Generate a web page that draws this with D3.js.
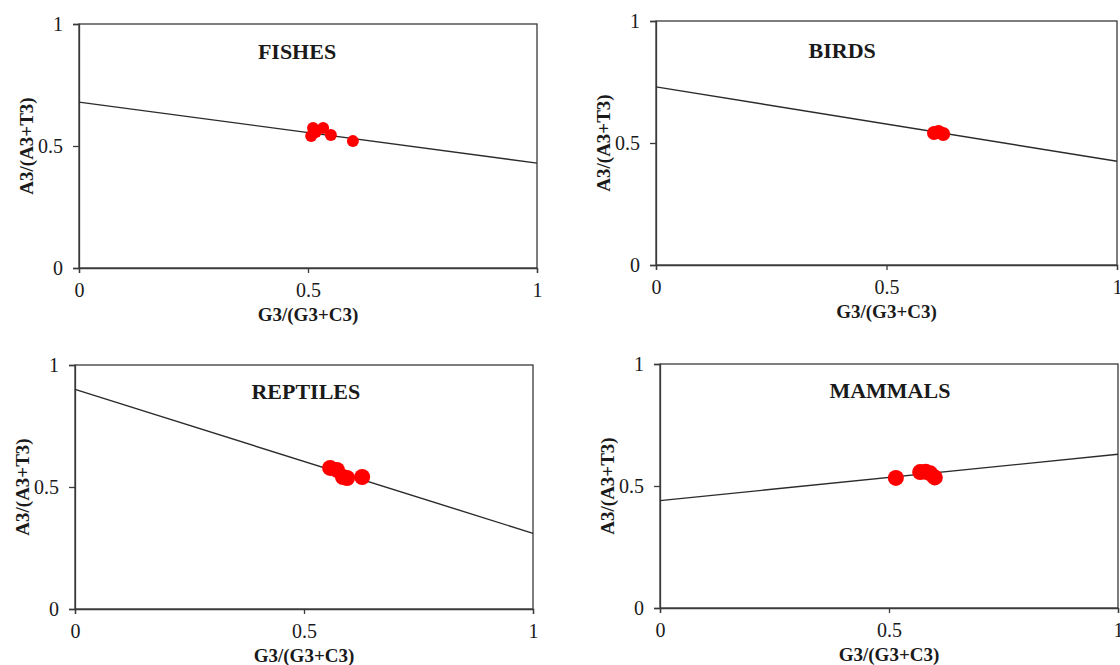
<!DOCTYPE html>
<html>
<head>
<meta charset="utf-8">
<script src="https://cdn.jsdelivr.net/npm/d3@7"></script>
<style>
  body { margin: 0; background: #fff; }
  text { font-family: "Liberation Serif", "Times New Roman", serif; fill: #1a1a1a; }
  .tick text { font-size: 20px; }
  .title { font-size: 22px; font-weight: bold; }
  .axis-title { font-size: 19px; font-weight: bold; }
</style>
</head>
<body>
<svg width="1120" height="665"></svg>
<script>
// chart values
var panelNames = ["FISHES", "BIRDS", "REPTILES", "MAMMALS"];

var fishesX = [0.511, 0.507, 0.517, 0.533, 0.550, 0.598];
var fishesY = [0.574, 0.541, 0.557, 0.574, 0.545, 0.520];

var birdsX = [0.603, 0.613, 0.623];
var birdsY = [0.541, 0.545, 0.537];

var reptilesX = [0.557, 0.572, 0.585, 0.594, 0.627];
var reptilesY = [0.578, 0.570, 0.541, 0.537, 0.541];

var mammalsX = [0.515, 0.568, 0.580, 0.590, 0.600];
var mammalsY = [0.533, 0.557, 0.558, 0.552, 0.535];

var fitIntercepts = [0.68, 0.73, 0.90, 0.44];
var fitSlopes = [-0.25, -0.305, -0.59, 0.19];

var tickValues = [0, 0.5, 1];
var tickLabels = ["0", "0.5", "1"];

var xTitle = "G3/(G3+C3)",
    yTitle = "A3/(A3+T3)";

// layout
var boxes = [
  { left: 79, top: 24, width: 458, height: 244, r: 6, titleX: 0.476, titleY: 27 },
  { left: 656, top: 21, width: 461, height: 244, r: 7, titleX: 0.404, titleY: 29 },
  { left: 75, top: 365, width: 458, height: 244, r: 8, titleX: 0.504, titleY: 26 },
  { left: 660, top: 364, width: 458, height: 244, r: 8, titleX: 0.502, titleY: 26 }
];

var seriesX = [fishesX, birdsX, reptilesX, mammalsX],
    seriesY = [fishesY, birdsY, reptilesY, mammalsY];

var svg = d3.select("svg");

panelNames.forEach(function(name, i) {
  var b = boxes[i];
  var x = d3.scaleLinear().domain([0, 1]).range([0, b.width]);
  var y = d3.scaleLinear().domain([0, 1]).range([b.height, 0]);

  var g = svg.append("g")
      .attr("transform", "translate(" + b.left + "," + b.top + ")");

  g.append("rect")
      .attr("width", b.width)
      .attr("height", b.height)
      .attr("fill", "none")
      .attr("stroke", "#3a3a3a")
      .attr("stroke-width", 1.3);

  var xAxis = g.append("g")
      .attr("transform", "translate(0," + b.height + ")")
      .call(d3.axisBottom(x).tickValues(tickValues).tickSize(5).tickPadding(10)
        .tickFormat(function(d, j) { return tickLabels[j]; }));

  var yAxis = g.append("g")
      .call(d3.axisLeft(y).tickValues(tickValues).tickSize(6).tickPadding(10)
        .tickFormat(function(d, j) { return tickLabels[j]; }));

  [xAxis, yAxis].forEach(function(a) {
    a.attr("font-size", null).attr("font-family", null);
    a.select(".domain").attr("stroke", "#3a3a3a").attr("stroke-width", 1.3);
    a.selectAll(".tick line").attr("stroke", "#3a3a3a").attr("stroke-width", 1.3);
    a.selectAll(".tick text").attr("fill", "#1a1a1a");
  });

  var fit = [0, 1].map(function(v) {
    return [v, fitIntercepts[i] + fitSlopes[i] * v];
  });

  g.append("path")
      .datum(fit)
      .attr("d", d3.line()
        .x(function(d) { return x(d[0]); })
        .y(function(d) { return y(d[1]); }))
      .attr("fill", "none")
      .attr("stroke", "#2b2b2b")
      .attr("stroke-width", 1.4);

  g.selectAll(".dot")
      .data(d3.zip(seriesX[i], seriesY[i]))
      .enter().append("circle")
      .attr("class", "dot")
      .attr("cx", function(d) { return x(d[0]); })
      .attr("cy", function(d) { return y(d[1]); })
      .attr("r", b.r)
      .attr("fill", "#ff0000");

  g.append("text")
      .attr("class", "title")
      .attr("x", b.titleX * b.width)
      .attr("y", b.titleY)
      .attr("text-anchor", "middle")
      .attr("dominant-baseline", "central")
      .text(name);

  g.append("text")
      .attr("class", "axis-title")
      .attr("x", b.width / 2)
      .attr("y", b.height + 46)
      .attr("text-anchor", "middle")
      .attr("dominant-baseline", "central")
      .text(xTitle);

  g.append("text")
      .attr("class", "axis-title")
      .attr("transform", "translate(-53," + b.height / 2 + ") rotate(-90)")
      .attr("text-anchor", "middle")
      .attr("dominant-baseline", "central")
      .text(yTitle);
});
</script>
</body>
</html>
